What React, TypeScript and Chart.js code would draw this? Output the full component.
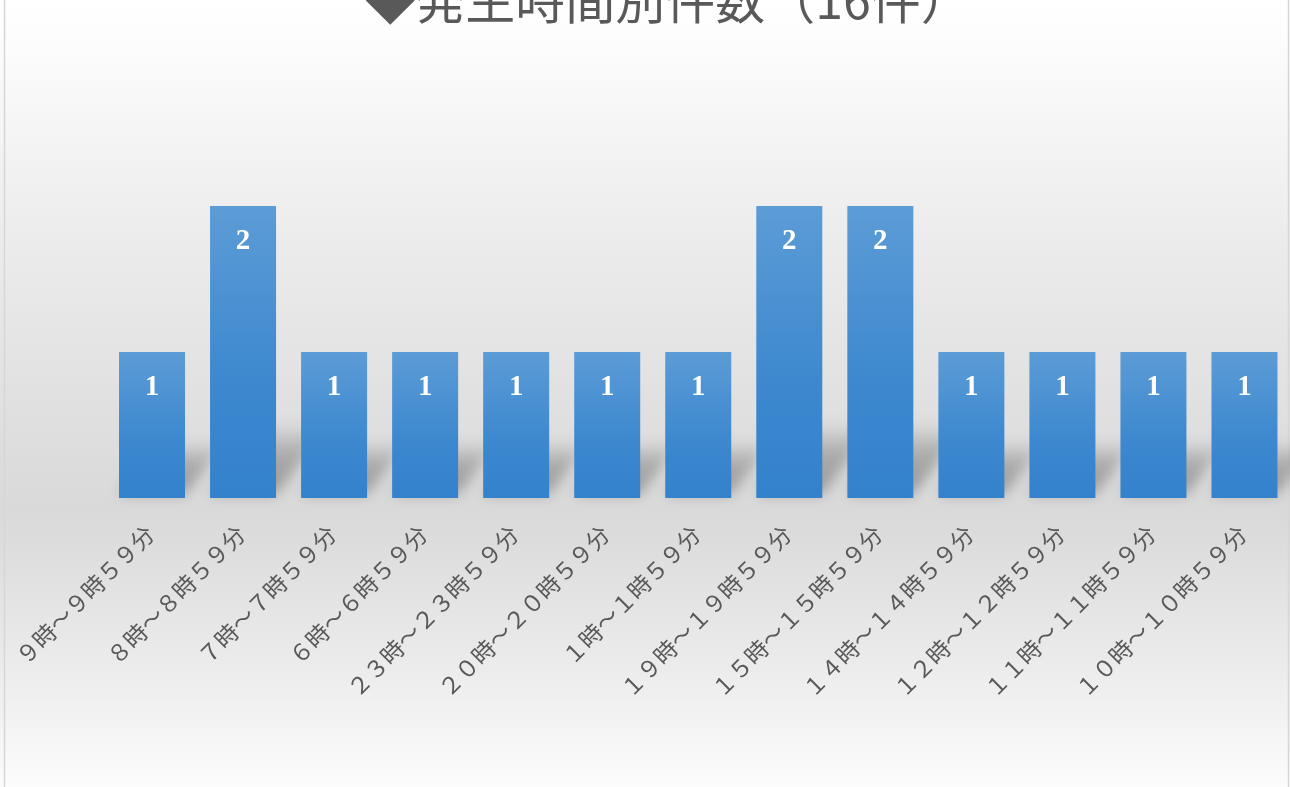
import React, { useEffect, useRef } from "react";
import { Chart, registerables } from "chart.js";

Chart.register(...registerables);

const TITLE = "◆発生時間別件数（16件）";
const categories = [
  "９時～９時５９分",
  "８時～８時５９分",
  "７時～７時５９分",
  "６時～６時５９分",
  "２３時～２３時５９分",
  "２０時～２０時５９分",
  "１時～１時５９分",
  "１９時～１９時５９分",
  "１５時～１５時５９分",
  "１４時～１４時５９分",
  "１２時～１２時５９分",
  "１１時～１１時５９分",
  "１０時～１０時５９分",
];
const counts = [1, 2, 1, 1, 1, 1, 1, 2, 2, 1, 1, 1, 1];

const W = 1290;
const H = 787;

const backgroundPlugin = {
  id: "bgPlugin",
  beforeDraw(chart: any) {
    const ctx = chart.ctx;
    ctx.save();
    const g = ctx.createLinearGradient(0, 0, 0, H);
    g.addColorStop(0, "#ffffff");
    g.addColorStop(0.06, "#fcfcfc");
    g.addColorStop(0.3, "#ececec");
    g.addColorStop(0.65, "#d9d9d9");
    g.addColorStop(0.85, "#ececec");
    g.addColorStop(1, "#fcfcfc");
    ctx.fillStyle = g;
    ctx.fillRect(0, 0, W, H);
    ctx.strokeStyle = "#d6d6d6";
    ctx.lineWidth = 1.5;
    ctx.beginPath();
    ctx.moveTo(4.5, 0);
    ctx.lineTo(4.5, H);
    ctx.moveTo(1288.5, 0);
    ctx.lineTo(1288.5, H);
    ctx.stroke();
    ctx.restore();
  },
};

const shadowPlugin = {
  id: "shadowPlugin",
  beforeDatasetsDraw(chart: any) {
    const ctx = chart.ctx;
    const meta = chart.getDatasetMeta(0);
    ctx.save();
    ctx.filter = "blur(7px)";
    meta.data.forEach((bar: any) => {
      const half = bar.width / 2;
      const x0 = bar.x - half;
      const x1 = bar.x + half;
      const b = bar.base;
      const h = b - bar.y;
      if (!isFinite(b) || !isFinite(h)) return;
      const sh = Math.min(40 + h * 0.12, 80);
      const dx = sh * 0.75;
      const g = ctx.createLinearGradient(0, b, 0, b - sh);
      g.addColorStop(0, "rgba(0,0,0,0.32)");
      g.addColorStop(0.6, "rgba(0,0,0,0.22)");
      g.addColorStop(1, "rgba(0,0,0,0.0)");
      ctx.fillStyle = g;
      ctx.beginPath();
      ctx.moveTo(x0, b - 4);
      ctx.lineTo(x1, b - 4);
      ctx.lineTo(x1 + dx, b - sh);
      ctx.lineTo(x0 + dx, b - sh);
      ctx.closePath();
      ctx.fill();
    });
    ctx.restore();
  },
};

const labelPlugin = {
  id: "labelPlugin",
  afterDatasetsDraw(chart: any) {
    const ctx = chart.ctx;
    const meta = chart.getDatasetMeta(0);
    ctx.save();
    ctx.fillStyle = "#ffffff";
    ctx.font = "bold 29px 'Liberation Serif', 'Noto Sans CJK JP'";
    ctx.textAlign = "center";
    ctx.textBaseline = "middle";
    meta.data.forEach((bar: any, i: number) => {
      ctx.fillText(String(counts[i]), bar.x, bar.y + 36);
    });
    ctx.restore();
  },
};

const titlePlugin = {
  id: "titlePlugin",
  afterDraw(chart: any) {
    const ctx = chart.ctx;
    ctx.save();
    ctx.fillStyle = "#595959";
    ctx.font = "50px 'Noto Sans CJK JP'";
    ctx.textAlign = "center";
    ctx.textBaseline = "alphabetic";
    ctx.fillText(TITLE, 668, 19);
    ctx.restore();
  },
};

export default function App() {
  const ref = useRef<HTMLCanvasElement | null>(null);

  useEffect(() => {
    document.body.style.margin = "0";
    const canvas = ref.current;
    if (!canvas) return;
    const chart = new Chart(canvas, {
      type: "bar",
      data: {
        labels: categories,
        datasets: [
          {
            data: counts,
            backgroundColor: (c: any) => {
              const ch = c.chart;
              const ys = ch.scales && ch.scales.y;
              if (!ys || c.dataIndex === undefined) return "#4a8fd2";
              const top = ys.getPixelForValue(counts[c.dataIndex]);
              const base = ys.getPixelForValue(0);
              if (!isFinite(top) || !isFinite(base) || top === base) return "#4a8fd2";
              const g = ch.ctx.createLinearGradient(0, top, 0, base);
              g.addColorStop(0, "#5c9cd6");
              g.addColorStop(0.6, "#3d88cf");
              g.addColorStop(1, "#3482cc");
              return g;
            },
            borderWidth: 0,
            categoryPercentage: 1,
            barPercentage: 0.725,
          },
        ],
      },
      options: {
        responsive: false,
        animation: false,
        layout: { padding: { left: 106.5, right: 0, top: 133, bottom: 0 } },
        plugins: {
          legend: { display: false },
          tooltip: { enabled: false },
          title: { display: false },
        },
        scales: {
          x: {
            grid: { display: false, drawTicks: false },
            border: { display: false },
            ticks: {
              autoSkip: false,
              minRotation: 45,
              maxRotation: 45,
              padding: 24,
              color: "#595959",
              font: { family: "'Liberation Serif', 'Noto Sans CJK JP'", size: 23 },
            },
            afterFit: (scale: any) => {
              scale.height = H - 498;
              scale.paddingLeft = 0;
              scale.paddingRight = 0;
            },
          },
          y: {
            display: false,
            min: 0,
            max: 2.5,
          },
        },
      },
      plugins: [backgroundPlugin, shadowPlugin, labelPlugin, titlePlugin],
    });
    return () => chart.destroy();
  }, []);

  return (
    <div style={{ width: W, height: H, position: "relative", overflow: "hidden" }}>
      <canvas ref={ref} width={W} height={H} style={{ display: "block" }} />
    </div>
  );
}
